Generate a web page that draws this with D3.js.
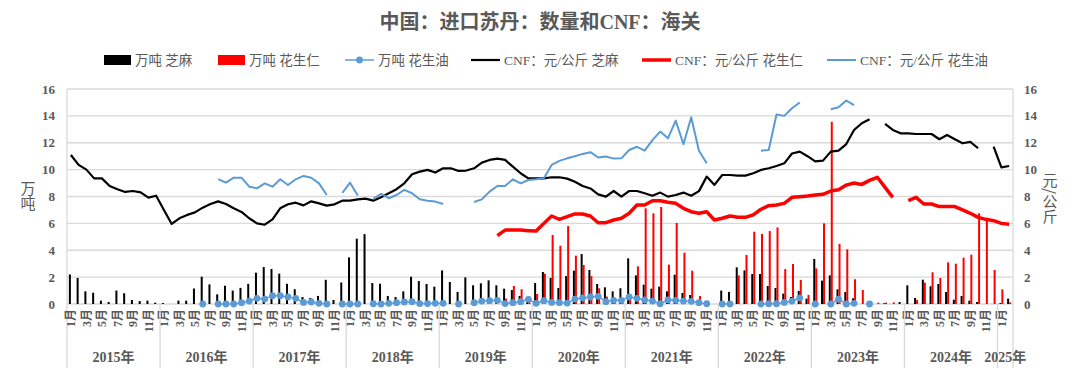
<!DOCTYPE html>
<head>
    <meta charset="utf-8">
    <script src="https://d3js.org/d3.v7.min.js"></script>
    <style>
        body { margin: 0; background: #fff; }
        text { font-family: "Liberation Serif", "Times New Roman", "Noto Sans CJK SC", serif; fill: #595959; }
    </style>
</head>
<body>
<svg width="1080" height="374"></svg>

<script>

    // categories
    var years = ["2015", "2016", "2017", "2018", "2019", "2020", "2021", "2022", "2023", "2024", "2025"];
    var monthsInYear = [12, 12, 12, 12, 12, 12, 12, 12, 12, 12, 2];
    var monthNames = ["1月", "2月", "3月", "4月", "5月", "6月", "7月", "8月", "9月", "10月", "11月", "12月"];
    var yTicks = [0, 2, 4, 6, 8, 10, 12, 14, 16];

    // 万吨 芝麻 (bars)
    var sesameQty = [
        2.2, 1.94, 0.94, 0.84, 0.25, 0.15, 1.0, 0.8, 0.3, 0.22, 0.25, 0.1,
        0.07, 0, 0.25, 0.25, 1.15, 2.03, 1.46, 0.72, 1.36, 1.0, 1.2, 1.5,
        2.33, 2.75, 2.6, 2.26, 1.5, 1.1, 0.52, 0.45, 0.6, 1.8, 0.3, 1.6,
        3.47, 4.86, 5.2, 1.56, 1.51, 0.6, 0.52, 0.94, 2.03, 1.71, 1.49, 1.29,
        2.5, 1.64, 0.9, 1.98, 1.39, 1.54, 1.76, 1.39, 1.14, 1.04, 0.6, 0.5,
        1.56, 2.38, 1.94, 1.19, 2.08, 2.48, 3.72, 2.53, 1.49, 1.24, 0.94, 1.17,
        3.4, 2.13, 1.44, 1.14, 1.29, 0.94, 2.18, 0.82, 0.67, 0.1, 0, 0,
        1.0, 0.9, 2.73, 2.5, 2.23, 2.23, 1.34, 1.19, 0.77, 0.52, 0.97, 0.4,
        3.35, 1.74, 2.13, 1.09, 0.89, 0.42, 0, 0, 0, 0.05, 0, 0.15,
        1.39, 0.45, 1.81, 1.32, 1.49, 0.89, 0.32, 0.6, 0.25, 0.15, 0, 0,
        0.07, 0.4
    ];

    // 万吨 花生仁 (bars)
    var peanutQty = [
        0, 0, 0, 0, 0, 0, 0, 0, 0, 0, 0, 0,
        0, 0, 0, 0, 0, 0, 0, 0, 0, 0, 0, 0,
        0, 0, 0, 0, 0, 0, 0, 0, 0, 0, 0, 0,
        0, 0, 0, 0, 0, 0, 0, 0, 0, 0, 0, 0,
        0, 0, 0, 0, 0, 0, 0, 0, 0.4, 1.34, 1.1, 0.55,
        0.75, 2.26, 5.14, 4.34, 5.8, 3.6, 2.9, 2.08, 1.17, 0.55, 0.15, 0.1,
        0.62, 2.8, 7.12, 6.75, 7.22, 2.93, 6.03, 3.82, 2.48, 0.6, 0, 0,
        0, 0.2, 2.13, 3.65, 5.38, 5.22, 5.43, 5.7, 2.6, 2.98, 1.79, 0.67,
        2.65, 6.0, 13.56, 4.47, 4.07, 1.84, 1.04, 0, 0.1, 0.1, 0.12, 0,
        0, 0.3, 1.59, 2.36, 1.94, 3.1, 3.0, 3.45, 3.67, 6.75, 6.25, 2.53,
        1.09, 0.12
    ];

    // 万吨 花生油 (line with dots)
    var peanutOilQty = [
        null, null, null, null, null, null, null, null, null, null, null, null,
        null, null, null, null, null, 0, null, 0, 0, 0, 0.1, 0.22,
        0.42, 0.37, 0.62, 0.62, 0.52, 0.42, 0.12, 0.15, 0.05, 0, null, 0,
        0, 0, null, 0.02, 0, 0.05, 0.1, 0.15, 0.17, 0.03, 0.03, 0.05,
        0.05, null, 0, null, 0.1, 0.22, 0.25, 0.27, 0.03, 0.1, 0.17, 0.35,
        0.05, 0.25, 0.12, 0.1, 0.07, 0.37, 0.45, 0.52, 0.57, 0.17, 0.27, 0.27,
        0.52, 0.42, 0.3, 0.22, 0.02, 0.3, 0.27, 0.22, 0.2, 0.1, 0.02, null,
        0, 0, null, null, null, 0, 0.02, 0.02, 0.12, 0.22, 0.45, null,
        0, null, 0, 0.36, 0, 0.05, null, 0, null, null, null, null,
        null, null, null, null, null, null, null, null, null, null, null, null,
        null, null
    ];

    // CNF：元/公斤 芝麻
    var sesameCNF = [
        11.09, 10.35, 10.0, 9.35, 9.35, 8.78, 8.54, 8.34, 8.41, 8.31, 7.92, 8.06,
        7.0, 5.96, 6.38, 6.63, 6.82, 7.17, 7.44, 7.64, 7.44, 7.12, 6.85, 6.38,
        6.0, 5.9, 6.3, 7.12, 7.42, 7.54, 7.34, 7.64, 7.49, 7.32, 7.42, 7.69,
        7.69, 7.79, 7.84, 7.69, 7.94, 8.24, 8.54, 8.98, 9.65, 9.85, 9.98, 9.78,
        10.1, 10.1, 9.9, 9.93, 10.1, 10.52, 10.72, 10.82, 10.72, 10.22, 9.73, 9.35,
        9.35, 9.35, 9.43, 9.43, 9.33, 9.1, 8.78, 8.6, 8.16, 7.99, 8.41, 7.99,
        8.41, 8.41, 8.24, 8.06, 8.29, 7.99, 8.11, 8.29, 8.06, 8.4, 9.48, 8.86,
        9.6, 9.6, 9.55, 9.55, 9.73, 9.98, 10.1, 10.27, 10.47, 11.2, 11.34, 11.0,
        10.62, 10.67, 11.34, 11.41, 11.9, 12.95, 13.45, 13.75, null, 13.4, 12.95, 12.7,
        12.7, 12.65, 12.65, 12.65, 12.26, 12.58, 12.26, 11.96, 12.06, 11.59, null, 11.71,
        10.17, 10.27
    ];

    // CNF：元/公斤 花生仁
    var peanutCNF = [
        null, null, null, null, null, null, null, null, null, null, null, null,
        null, null, null, null, null, null, null, null, null, null, null, null,
        null, null, null, null, null, null, null, null, null, null, null, null,
        null, null, null, null, null, null, null, null, null, null, null, null,
        null, null, null, null, null, null, null, 5.09, 5.5, 5.5, 5.5, 5.46,
        5.43, 6.0, 6.55, 6.3, 6.5, 6.7, 6.7, 6.55, 6.05, 6.05, 6.25, 6.38,
        6.75, 7.37, 7.37, 7.69, 7.69, 7.57, 7.49, 7.12, 6.87, 6.75, 6.87, 6.25,
        6.38, 6.55, 6.45, 6.45, 6.63, 7.05, 7.32, 7.37, 7.49, 7.94, 7.99, 8.04,
        8.11, 8.16, 8.41, 8.5, 8.85, 9.0, 8.9, 9.2, 9.43, 8.68, 7.94, null,
        7.69, 7.94, 7.44, 7.44, 7.25, 7.25, 7.25, 7.0, 6.75, 6.45, 6.3, 6.2,
        6.0, 5.93
    ];

    // CNF：元/公斤 花生油
    var peanutOilCNF = [
        null, null, null, null, null, null, null, null, null, null, null, null,
        null, null, null, null, null, null, null, 9.3, 9.03, 9.4, 9.4, 8.73,
        8.61, 8.98, 8.73, 9.28, 8.86, 9.28, 9.53, 9.4, 8.98, 8.11, null, 8.26,
        9.03, 8.08, null, 7.82, 8.19, 7.87, 8.11, 8.49, 8.24, 7.79, 7.69, 7.62,
        7.44, null, null, null, 7.59, 7.79, 8.36, 8.78, 8.78, 9.28, 8.98, 9.23,
        9.28, 9.35, 10.35, 10.65, 10.84, 11.0, 11.17, 11.3, 10.9, 10.97, 10.82, 10.84,
        11.46, 11.7, 11.41, 12.2, 12.83, 12.33, 13.65, 11.89, 13.9, 11.4, 10.47, null,
        null, null, null, null, null, 11.41, 11.46, 14.1, 14.0, 14.57, 15.0, null,
        null, null, 14.5, 14.64, 15.14, 14.8, null, null, null, null, null, null,
        null, null, null, null, null, null, null, null, null, null, null, null,
        null, null
    ];

    // month list built from the years
    var months = [];
    years.forEach(function(yr, yi) {
        for (var m = 0; m < monthsInYear[yi]; m++) {
            months.push({ year: yr, month: m, label: monthNames[m] });
        }
    });

    var svg = d3.select("svg"),
        plotLeft = 67,
        plotRight = 1013,
        plotTop = 89,
        plotBottom = 304,
        axisFoot = 368;

    svg.append("rect").attr("width", 1080).attr("height", 374).attr("fill", "#fff");

    var x = d3.scaleBand()
        .domain(d3.range(months.length))
        .range([plotLeft, plotRight]);

    var xs = d3.scaleBand()
        .domain(["sesame", "peanut"])
        .range([-2, 2]);

    var y = d3.scaleLinear()
        .domain([0, 16])
        .range([plotBottom, plotTop]);

    function cx(i) { return x(i) + x.bandwidth() / 2; }

    // title
    svg.append("text")
        .attr("x", 540)
        .attr("y", 29)
        .attr("text-anchor", "middle")
        .attr("font-size", 20)
        .attr("font-weight", "bold")
        .text("中国：进口苏丹：数量和CNF：海关");

    // gridlines
    svg.append("g")
        .selectAll("line")
        .data(yTicks.slice(1))
        .enter()
        .append("line")
        .attr("x1", plotLeft)
        .attr("x2", plotRight)
        .attr("y1", function(d) { return y(d); })
        .attr("y2", function(d) { return y(d); })
        .attr("stroke", "#d9d9d9")
        .attr("stroke-width", 1.3);

    // axis frame lines
    svg.append("line")
        .attr("x1", plotLeft).attr("x2", plotRight)
        .attr("y1", plotBottom).attr("y2", plotBottom)
        .attr("stroke", "#d9d9d9").attr("stroke-width", 1.3);
    svg.append("line")
        .attr("x1", plotLeft).attr("x2", plotLeft)
        .attr("y1", plotTop).attr("y2", axisFoot)
        .attr("stroke", "#d9d9d9").attr("stroke-width", 1.3);
    svg.append("line")
        .attr("x1", plotRight).attr("x2", plotRight)
        .attr("y1", plotTop).attr("y2", plotBottom)
        .attr("stroke", "#d9d9d9").attr("stroke-width", 1.3);

    // y labels, left and right
    svg.append("g")
        .selectAll("text")
        .data(yTicks)
        .enter()
        .append("text")
        .attr("x", 55)
        .attr("y", function(d) { return y(d) + 4.5; })
        .attr("text-anchor", "end")
        .attr("font-size", 13)
        .attr("font-weight", "bold")
        .text(function(d) { return d; });

    svg.append("g")
        .selectAll("text")
        .data(yTicks)
        .enter()
        .append("text")
        .attr("x", 1024)
        .attr("y", function(d) { return y(d) + 4.5; })
        .attr("text-anchor", "start")
        .attr("font-size", 13)
        .attr("font-weight", "bold")
        .text(function(d) { return d; });

    // axis titles
    svg.append("text")
        .attr("x", 28)
        .attr("y", 181)
        .attr("font-size", 15)
        .style("writing-mode", "vertical-rl")
        .style("font-family", "'Noto Sans CJK SC', sans-serif")
        .text("万吨");

    svg.append("text")
        .attr("x", 1050)
        .attr("y", 173)
        .attr("font-size", 15)
        .style("writing-mode", "vertical-rl")
        .style("font-family", "'Noto Sans CJK SC', sans-serif")
        .text("元/公斤");

    // month labels (odd months only)
    svg.append("g")
        .selectAll("text")
        .data(months.map(function(d, i) { return {i: i, m: d}; }).filter(function(d) { return d.m.month % 2 === 0; }))
        .enter()
        .append("text")
        .attr("transform", function(d) { return "translate(" + cx(d.i) + ",309) rotate(-90)"; })
        .attr("dy", "0.35em")
        .attr("text-anchor", "end")
        .attr("font-size", 12)
        .attr("font-weight", "bold")
        .text(function(d) { return d.m.label; });

    // year separators and labels
    var yearSpans = [];
    var idx = 0;
    years.forEach(function(yr, yi) {
        yearSpans.push({ year: yr, start: idx, end: idx + monthsInYear[yi] - 1 });
        idx += monthsInYear[yi];
    });

    svg.append("g")
        .selectAll("line")
        .data(yearSpans.slice(1).map(function(d) { return x(d.start); }).concat([plotRight]))
        .enter()
        .append("line")
        .attr("x1", function(d) { return d; })
        .attr("x2", function(d) { return d; })
        .attr("y1", plotBottom)
        .attr("y2", axisFoot)
        .attr("stroke", "#d9d9d9")
        .attr("stroke-width", 1.3);

    svg.append("g")
        .selectAll("text")
        .data(yearSpans)
        .enter()
        .append("text")
        .attr("x", function(d) { return (x(d.start) + x(d.end) + x.bandwidth()) / 2; })
        .attr("y", 362)
        .attr("text-anchor", "middle")
        .attr("font-size", 14)
        .attr("font-weight", "bold")
        .text(function(d) { return d.year + "年"; });

    // bars
    var barKeys = [
        { key: "sesame", values: sesameQty, color: "#000000" },
        { key: "peanut", values: peanutQty, color: "#ff0000" }
    ];

    barKeys.forEach(function(s) {
        svg.append("g")
            .selectAll("rect")
            .data(s.values.map(function(v, i) { return {i: i, v: v}; }).filter(function(d) { return d.v > 0; }))
            .enter()
            .append("rect")
            .attr("x", function(d) { return cx(d.i) + xs(s.key); })
            .attr("y", function(d) { return y(d.v); })
            .attr("width", xs.bandwidth())
            .attr("height", function(d) { return plotBottom - y(d.v); })
            .attr("fill", s.color);
    });

    // lines
    var line = d3.line()
        .defined(function(d) { return d != null; })
        .x(function(d, i) { return cx(i); })
        .y(function(d) { return y(d); });

    svg.append("path")
        .datum(peanutOilQty)
        .attr("d", line)
        .attr("fill", "none")
        .attr("stroke", "#5b9bd5")
        .attr("stroke-width", 1.5);

    svg.append("path")
        .datum(sesameCNF)
        .attr("d", line)
        .attr("fill", "none")
        .attr("stroke", "#000")
        .attr("stroke-width", 2.2)
        .attr("stroke-linejoin", "round");

    svg.append("path")
        .datum(peanutCNF)
        .attr("d", line)
        .attr("fill", "none")
        .attr("stroke", "#ff0000")
        .attr("stroke-width", 3.5)
        .attr("stroke-linejoin", "round");

    svg.append("path")
        .datum(peanutOilCNF)
        .attr("d", line)
        .attr("fill", "none")
        .attr("stroke", "#5b9bd5")
        .attr("stroke-width", 2)
        .attr("stroke-linejoin", "round");

    // peanut oil quantity dots
    svg.append("g")
        .selectAll("circle")
        .data(peanutOilQty.map(function(v, i) { return {i: i, v: v}; }).filter(function(d) { return d.v != null; }))
        .enter()
        .append("circle")
        .attr("cx", function(d) { return cx(d.i); })
        .attr("cy", function(d) { return y(d.v); })
        .attr("r", 3.4)
        .attr("fill", "#5b9bd5");

    // legend
    var legend = [
        { label: "万吨 芝麻", type: "rect", color: "#000000", x: 104 },
        { label: "万吨 花生仁", type: "rect", color: "#ff0000", x: 218 },
        { label: "万吨 花生油", type: "dot", color: "#5b9bd5", x: 345 },
        { label: "CNF：元/公斤 芝麻", type: "line", color: "#000000", x: 471, w: 2.2 },
        { label: "CNF：元/公斤 花生仁", type: "line", color: "#ff0000", x: 642, w: 3.5 },
        { label: "CNF：元/公斤 花生油", type: "line", color: "#5b9bd5", x: 827, w: 2 }
    ];
    var ly = 60;

    legend.forEach(function(d) {
        var g = svg.append("g");
        if (d.type === "rect") {
            g.append("rect")
                .attr("x", d.x).attr("y", ly - 5)
                .attr("width", 27).attr("height", 10)
                .attr("fill", d.color);
        } else {
            g.append("line")
                .attr("x1", d.x).attr("x2", d.x + 29)
                .attr("y1", ly).attr("y2", ly)
                .attr("stroke", d.color)
                .attr("stroke-width", d.type === "dot" ? 1.5 : d.w);
            if (d.type === "dot") {
                g.append("circle")
                    .attr("cx", d.x + 14.5).attr("cy", ly)
                    .attr("r", 3.4).attr("fill", d.color);
            }
        }
        g.append("text")
            .attr("x", d.x + (d.type === "rect" ? 31 : 33))
            .attr("y", ly + 5)
            .attr("font-size", 13.5)
            .text(d.label);
    });

</script>
</body>
